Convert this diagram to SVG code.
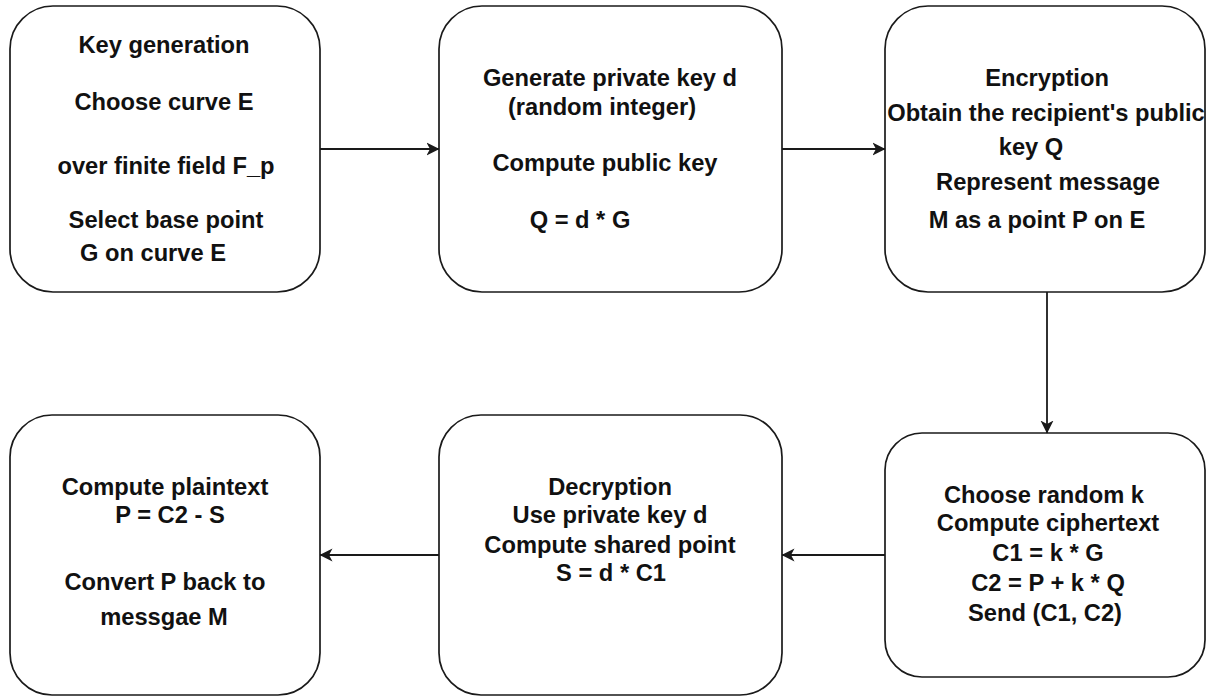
<svg xmlns="http://www.w3.org/2000/svg" width="1206" height="696" viewBox="0 0 1206 696">
  <style>
    .box { fill: #ffffff; stroke: #1a1a1a; stroke-width: 1.7; }
    .t { font-family: "Liberation Sans", Arial, sans-serif; font-weight: bold; font-size: 23.7px; fill: #111111; text-anchor: middle; }
    .edge { fill: none; stroke: #1a1a1a; stroke-width: 1.8; }
  </style>
  <defs>
    <marker id="arrow" viewBox="0 0 13 14" refX="12.5" refY="7" markerWidth="13" markerHeight="14" markerUnits="userSpaceOnUse" orient="auto">
      <path d="M0,0.5 L13,7 L0,13.5 L3.5,7 z" fill="#1a1a1a"/>
    </marker>
  </defs>
  <rect width="1206" height="696" fill="#ffffff"/>

  <g id="node-keygen">
    <rect class="box" x="10" y="6" width="310" height="286" rx="43" ry="43"/>
    <text class="t" x="164" y="53">Key generation</text>
    <text class="t" x="164" y="110">Choose curve E</text>
    <text class="t" x="166" y="174">over finite field F_p</text>
    <text class="t" x="166" y="228">Select base point</text>
    <text class="t" x="153" y="261">G on curve E</text>
  </g>

  <g id="node-privkey">
    <rect class="box" x="439" y="6" width="343" height="286" rx="43" ry="43"/>
    <text class="t" x="610" y="86">Generate private key d</text>
    <text class="t" x="602" y="115">(random integer)</text>
    <text class="t" x="605" y="171">Compute public key</text>
    <text class="t" x="580" y="228">Q = d * G</text>
  </g>

  <g id="node-encryption">
    <rect class="box" x="885" y="6" width="320" height="286" rx="43" ry="43"/>
    <text class="t" x="1047" y="86">Encryption</text>
    <text class="t" x="1046" y="121">Obtain the recipient's public</text>
    <text class="t" x="1031" y="155">key Q</text>
    <text class="t" x="1048" y="190">Represent message</text>
    <text class="t" x="1037" y="228">M as a point P on E</text>
  </g>

  <g id="node-cipher">
    <rect class="box" x="885" y="433" width="320" height="244" rx="37" ry="37"/>
    <text class="t" x="1044" y="503">Choose random k</text>
    <text class="t" x="1048" y="531">Compute ciphertext</text>
    <text class="t" x="1048" y="561">C1 = k * G</text>
    <text class="t" x="1048" y="591">C2 = P + k * Q</text>
    <text class="t" x="1045" y="621">Send (C1, C2)</text>
  </g>

  <g id="node-decryption">
    <rect class="box" x="439" y="415" width="343" height="280" rx="42" ry="42"/>
    <text class="t" x="610" y="495">Decryption</text>
    <text class="t" x="610" y="523">Use private key d</text>
    <text class="t" x="610" y="553">Compute shared point</text>
    <text class="t" x="611" y="581">S = d * C1</text>
  </g>

  <g id="node-plaintext">
    <rect class="box" x="10" y="415" width="310" height="280" rx="42" ry="42"/>
    <text class="t" x="165" y="495">Compute plaintext</text>
    <text class="t" x="170" y="523">P = C2 - S</text>
    <text class="t" x="165" y="590">Convert P back to</text>
    <text class="t" x="164" y="625">messgae M</text>
  </g>

  <g id="connectors">
    <line class="edge" x1="320" y1="149" x2="439" y2="149" marker-end="url(#arrow)"/>
    <line class="edge" x1="782" y1="149" x2="885" y2="149" marker-end="url(#arrow)"/>
    <line class="edge" x1="1047" y1="292" x2="1047" y2="433" marker-end="url(#arrow)"/>
    <line class="edge" x1="885" y1="555" x2="782" y2="555" marker-end="url(#arrow)"/>
    <line class="edge" x1="439" y1="555" x2="320" y2="555" marker-end="url(#arrow)"/>
  </g>
</svg>
